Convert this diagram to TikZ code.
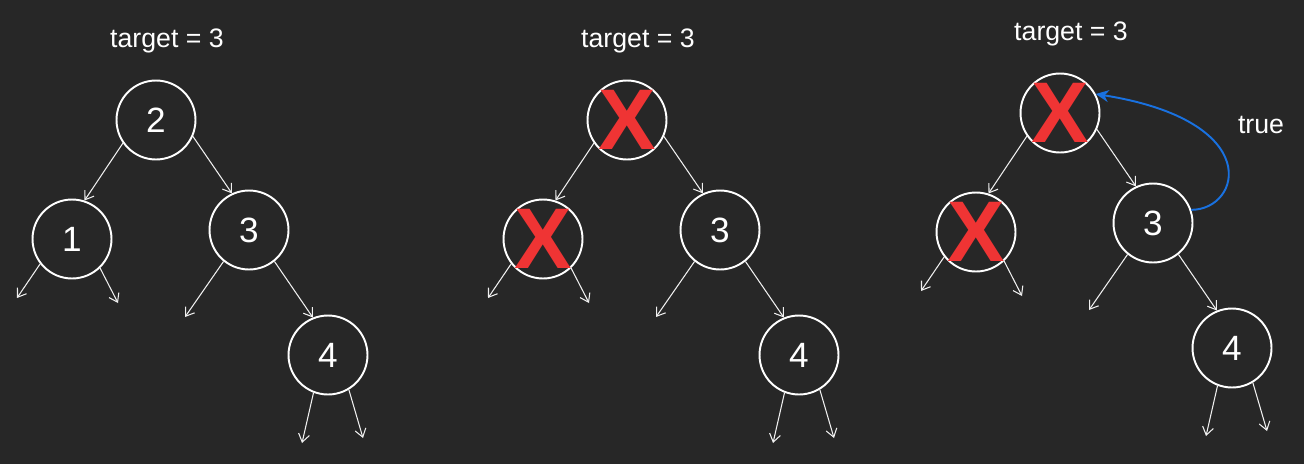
\documentclass[tikz,border=0pt]{standalone}
\usepackage{fontspec}
\setmainfont{Liberation Sans}
\usepackage{xcolor}
\definecolor{cBg}{HTML}{272727}
\definecolor{cLine}{HTML}{F0F0F0}
\definecolor{cCross}{HTML}{EF3434}
\definecolor{cBlue}{HTML}{1971E0}
\usepackage{tikz}
\usetikzlibrary{arrows.meta}
\tikzset{
  node-val/.style={draw=white,line width=1.1pt,circle,minimum size=1.58cm,
    inner sep=0pt,text=white,font=\fontsize{20}{20}\selectfont},
  node-num/.style={},
  node-cross/.style={inner sep=-6pt,text=cCross,
    font=\fontsize{49}{49}\selectfont\bfseries},
  node-title/.style={text=white,anchor=base,font=\fontsize{15.2}{16}\selectfont},
  arrow/.style={-{Straight Barb[length=1.6mm,width=2.2mm]},line width=0.6pt,draw=cLine},
  arrow-true/.style={-{Stealth[length=2.6mm,width=2.4mm]},line width=1.1pt,draw=cBlue},
}

\begin{document}
\begin{tikzpicture}[x=0.02cm,y=-0.02cm]
  \fill[cBg] (0,0) rectangle (1304,464);
  % three copies of the same tree, shifted
  \foreach \t/\dx/\dy/\sr/\vr/\sl/\vl in {a/0/0/node-num/2/node-num/1,
      b/471/0/node-cross/X/node-cross/X, c/904/-7/node-cross/X/node-cross/X}{
    \begin{scope}[shift={(\dx,\dy)}]
      \node[node-title] (title-\t) at (167,47) {target = 3};
      \node[node-val,\sr] (root-\t) at (156,120) {\vr};
      \node[node-val,\sl] (n1-\t) at (72,239) {\vl};
      \node[node-val] (n3-\t) at (249,230) {3};
      \node[node-val] (n4-\t) at (328,355) {4};
      \coordinate (l1-\t) at (17,298);
      \coordinate (r1-\t) at (118,303);
      \coordinate (l3-\t) at (185,317);
      \coordinate (l4-\t) at (302,443);
      \coordinate (r4-\t) at (363,438);
      \draw[arrow] (root-\t.215) -- (n1-\t.72);
      \draw[arrow] (root-\t.-24) -- (n3-\t.115);
      \draw[arrow] (n3-\t.-51) -- (n4-\t.112);
      \draw[arrow] (n1-\t.218) -- (l1-\t);
      \draw[arrow] (n1-\t.-46) -- (r1-\t);
      \draw[arrow] (n3-\t.231) -- (l3-\t);
      \draw[arrow] (n4-\t.249) -- (l4-\t);
      \draw[arrow] (n4-\t.-59) -- (r4-\t);
    \end{scope}
  }
  \node[node-title] (lbl-true) at (1261,133) {true};
  \draw[arrow-true] (n3-c.19) .. controls +(50,0) and +(170,27) .. (root-c.28);
\end{tikzpicture}
\end{document}
